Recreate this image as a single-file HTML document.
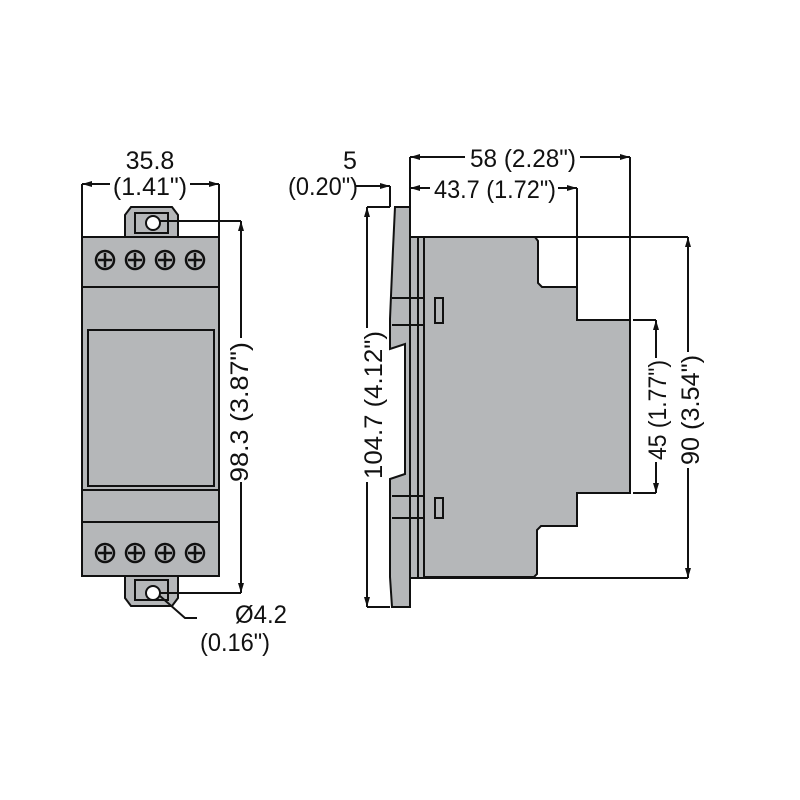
<!DOCTYPE html><html><head><style>body{margin:0;background:#fff}svg{display:block}text{font-family:"Liberation Sans Narrow","Liberation Sans",sans-serif;font-size:25px;fill:#111}</style></head><body>
<svg width="800" height="800" viewBox="0 0 800 800" xmlns="http://www.w3.org/2000/svg">
<defs><marker id="a" viewBox="0 0 10 6" refX="10" refY="3" markerWidth="12" markerHeight="6" orient="auto-start-reverse" markerUnits="userSpaceOnUse"><path d="M0,0L10,3L0,6z" fill="#111"/></marker></defs>
<g stroke="#111" stroke-width="2" fill="#b5b7b9">
<path d="M125,215 l6,-8 h41 l6,8 v22 h-53z"/>
<path d="M125,576 h53 v22 l-6,8 h-41 l-6,-8z"/>
<rect x="82" y="237" width="137" height="339"/>
<line x1="82" y1="287" x2="219" y2="287"/><line x1="82" y1="490" x2="219" y2="490"/><line x1="82" y1="522" x2="219" y2="522"/>
<rect x="88" y="330" width="126" height="156"/>
<rect x="135" y="213" width="33" height="20"/><circle cx="153" cy="223" r="7" fill="#fff"/>
<rect x="135" y="580" width="33" height="20"/><circle cx="153" cy="593" r="7" fill="#fff"/>
</g>
<g stroke="#111" stroke-width="2.5" fill="none">
<circle cx="105" cy="260" r="9"/><circle cx="135" cy="260" r="9"/><circle cx="165" cy="260" r="9"/><circle cx="195" cy="260" r="9"/>
<circle cx="105" cy="553" r="9"/><circle cx="135" cy="553" r="9"/><circle cx="165" cy="553" r="9"/><circle cx="195" cy="553" r="9"/>
<path d="M98,260h14M105,253v14M128,260h14M135,253v14M158,260h14M165,253v14M188,260h14M195,253v14M98,553h14M105,546v14M128,553h14M135,546v14M158,553h14M165,546v14M188,553h14M195,546v14"/>
</g>
<g stroke="#111" stroke-width="2" fill="#b5b7b9">
<path d="M395,207 h15 v30 h14 v341 h-14 v29 h-18 l-2,-30 v-98 l15,-5 v-130 l-15,5 v-30 l3,-70z"/>
<path d="M424,237 h111 l3,4 v42 l4,4 h35 v33 h53 v173 h-53 v33 h-36 l-4,4 v44 l-3,3 h-110z"/>
<line x1="410" y1="237" x2="410" y2="578"/><line x1="418" y1="237" x2="418" y2="578"/>
<line x1="392" y1="298" x2="424" y2="298"/><line x1="392" y1="325" x2="424" y2="325"/>
<line x1="392" y1="496" x2="424" y2="496"/><line x1="392" y1="518" x2="424" y2="518"/>
<rect x="435" y="298" width="8" height="25"/><rect x="435" y="498" width="8" height="20"/>
</g>
<g stroke="#111" stroke-width="2" fill="none">
<line x1="82" y1="237" x2="82" y2="184"/><line x1="219" y1="237" x2="219" y2="184"/>
<line x1="110" y1="184" x2="82" y2="184" marker-end="url(#a)"/><line x1="190" y1="184" x2="219" y2="184" marker-end="url(#a)"/>
<line x1="160" y1="221" x2="241" y2="221"/><line x1="160" y1="593" x2="241" y2="593"/>
<line x1="241" y1="338" x2="241" y2="221" marker-end="url(#a)"/><line x1="241" y1="482" x2="241" y2="593" marker-end="url(#a)"/>
<path d="M160,596 l25,22 h12"/>
<line x1="355" y1="186" x2="390" y2="186" marker-end="url(#a)"/><line x1="390" y1="186" x2="390" y2="207"/>
<line x1="410" y1="157" x2="410" y2="237"/><line x1="630" y1="157" x2="630" y2="320"/><line x1="577" y1="188" x2="577" y2="320"/>
<line x1="465" y1="157" x2="410" y2="157" marker-end="url(#a)"/><line x1="580" y1="157" x2="630" y2="157" marker-end="url(#a)"/>
<line x1="430" y1="188" x2="410" y2="188" marker-end="url(#a)"/><line x1="558" y1="188" x2="577" y2="188" marker-end="url(#a)"/>
<line x1="367" y1="207" x2="390" y2="207"/><line x1="367" y1="607" x2="390" y2="607"/>
<line x1="367" y1="328" x2="367" y2="207" marker-end="url(#a)"/><line x1="367" y1="482" x2="367" y2="607" marker-end="url(#a)"/>
<line x1="424" y1="237" x2="688" y2="237"/><line x1="424" y1="578" x2="688" y2="578"/>
<line x1="633" y1="320" x2="656" y2="320"/><line x1="633" y1="493" x2="656" y2="493"/>
<line x1="656" y1="358" x2="656" y2="320" marker-end="url(#a)"/><line x1="656" y1="462" x2="656" y2="493" marker-end="url(#a)"/>
<line x1="688" y1="352" x2="688" y2="237" marker-end="url(#a)"/><line x1="688" y1="468" x2="688" y2="578" marker-end="url(#a)"/>
</g>
<text x="150" y="169" text-anchor="middle">35.8</text>
<text x="150" y="195" text-anchor="middle">(1.41")</text>
<text x="248" y="412" text-anchor="middle" transform="rotate(-90 248 412)" textLength="140" lengthAdjust="spacingAndGlyphs">98.3 (3.87")</text>
<text x="235" y="623" textLength="52" lengthAdjust="spacingAndGlyphs">Ø4.2</text>
<text x="200" y="651" textLength="70" lengthAdjust="spacingAndGlyphs">(0.16")</text>
<text x="350" y="169" text-anchor="middle">5</text>
<text x="323" y="195" text-anchor="middle" textLength="70" lengthAdjust="spacingAndGlyphs">(0.20")</text>
<text x="470" y="167" textLength="106" lengthAdjust="spacingAndGlyphs">58 (2.28")</text>
<text x="434" y="198" textLength="122" lengthAdjust="spacingAndGlyphs">43.7 (1.72")</text>
<text x="382" y="405" text-anchor="middle" transform="rotate(-90 382 405)" textLength="148" lengthAdjust="spacingAndGlyphs">104.7 (4.12")</text>
<text x="666" y="410" text-anchor="middle" transform="rotate(-90 666 410)" textLength="100" lengthAdjust="spacingAndGlyphs">45 (1.77")</text>
<text x="699" y="410" text-anchor="middle" transform="rotate(-90 699 410)" textLength="110" lengthAdjust="spacingAndGlyphs">90 (3.54")</text>
</svg></body></html>
